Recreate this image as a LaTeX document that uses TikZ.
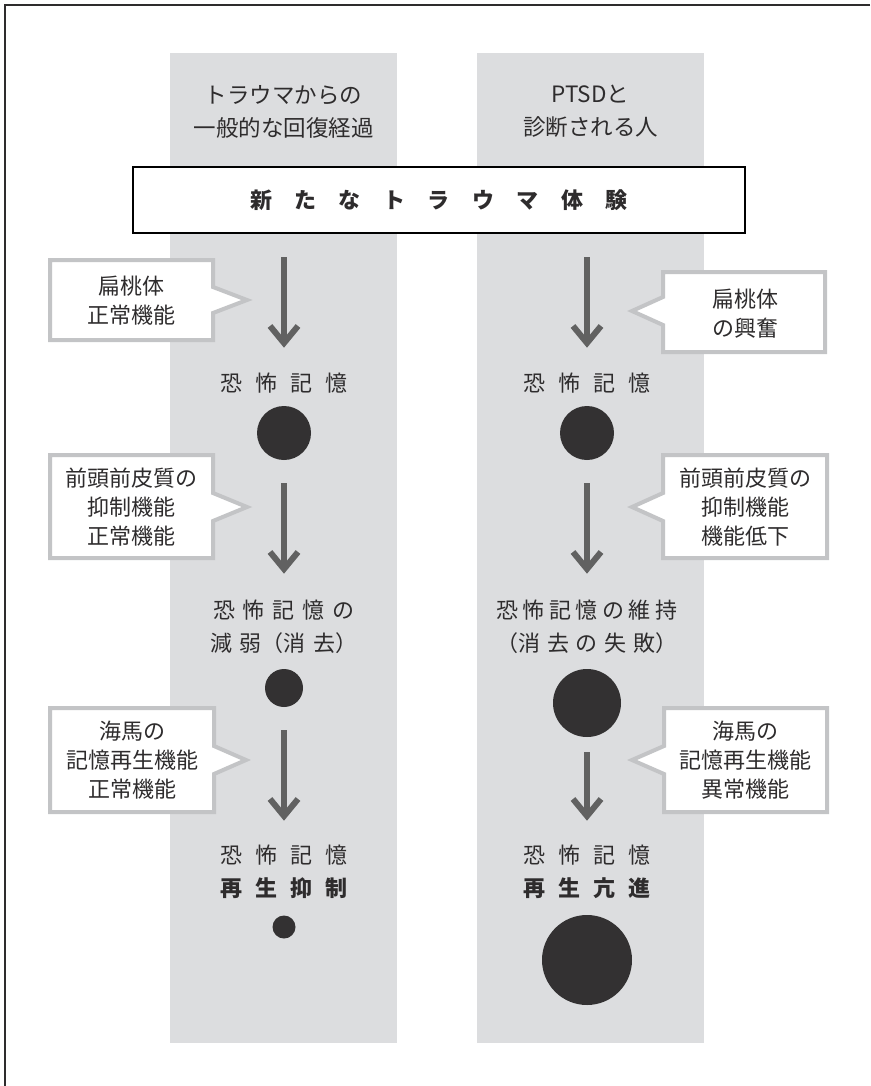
\documentclass[tikz,border=0pt]{standalone}
\usepackage{fontspec}
\setmainfont{Noto Sans CJK JP}
\definecolor{colgray}{HTML}{DCDDDF}
\definecolor{arrgray}{HTML}{616161}
\definecolor{callgray}{HTML}{C3C4C6}
\definecolor{ink}{HTML}{2E2C2D}
\definecolor{dotink}{HTML}{333132}
\newcommand\jg[1]{\hspace*{#1pt}}
\newcommand\flowarrow[2]{%
  \draw[flow] (#1) -- ([yshift=6pt]#2);
  \draw[flow, line join=miter] ([xshift=-14pt,yshift=21pt]#2) -- ([yshift=4pt]#2) -- ([xshift=14pt,yshift=21pt]#2);}
\begin{document}
\begin{tikzpicture}[x=1pt,y=-1pt,
  column/.style={fill=colgray},
  txt/.style={font=\fontsize{22}{29}\selectfont, text=ink, inner sep=0pt, align=center},
  callout/.style={fill=white, draw=callgray, line width=4pt, line join=miter},
  flow/.style={draw=arrgray, line width=6pt},
  memdot/.style={circle, fill=dotink, inner sep=0pt},
  mainbox/.style={draw=black, fill=white, line width=1.8pt}]
\useasboundingbox (0,0) rectangle (870,1086);
% frame (top and left edges)
\draw[line width=1.5pt, ink] (870,5) -- (5,5) -- (5,1086);
% columns
\fill[column] (170,53) rectangle (397,1043);
\fill[column] (477,53) rectangle (704,1043);
% headers
\node[txt, font=\fontsize{22.5}{33}\selectfont] (hl) at (283.5,111.5) {トラウマからの\\一般的な回復経過};
\node[txt, font=\fontsize{22.5}{33}\selectfont] (hr) at (590.5,111.5) {PTSDと\\診断される人};
% main box
\draw[mainbox] (133,167) rectangle (745,233);
\node[txt, font=\fontsize{22}{29}\selectfont\bfseries] (main) at (439,200) {新\jg{22.5}た\jg{22.5}な\jg{22.5}ト\jg{22.5}ラ\jg{22.5}ウ\jg{22.5}マ\jg{22.5}体\jg{22.5}験};
% callouts left
\draw[callout] (50,260) -- (213,260) -- (213,287) -- (247,300) -- (213,313) -- (213,340) -- (50,340) -- cycle;
\node[txt] (cl1) at (131,300.5) {扁桃体\\正常機能};
\draw[callout] (50,455) -- (213,455) -- (213,493) -- (247,507) -- (213,521) -- (213,558) -- (50,558) -- cycle;
\node[txt] (cl2) at (131,507.5) {前頭前皮質の\\抑制機能\\正常機能};
\draw[callout] (50,708) -- (214,708) -- (214,746) -- (246,760) -- (214,774) -- (214,812) -- (50,812) -- cycle;
\node[txt] (cl3) at (132,760) {海馬の\\記憶再生機能\\正常機能};
% callouts right
\draw[callout] (825,272) -- (663,272) -- (663,297) -- (632,311) -- (663,325) -- (663,352) -- (825,352) -- cycle;
\node[txt] (cr1) at (745,313.5) {扁桃体\\の興奮};
\draw[callout] (827,455) -- (663,455) -- (663,493) -- (632,507) -- (663,521) -- (663,558) -- (827,558) -- cycle;
\node[txt] (cr2) at (745,507.5) {前頭前皮質の\\抑制機能\\機能低下};
\draw[callout] (827,708) -- (664,708) -- (664,746) -- (632,760) -- (664,774) -- (664,812) -- (827,812) -- cycle;
\node[txt] (cr3) at (745,760) {海馬の\\記憶再生機能\\異常機能};
% left column flow
\coordinate (la1) at (284,257); \coordinate (lb1) at (284,347);
\flowarrow{la1}{lb1}
\node[txt] (lt1) at (284,383) {恐\jg{13}怖\jg{13}記\jg{13}憶};
\node[memdot, minimum size=54pt] (ld1) at (284,433) {};
\coordinate (la2) at (284,483); \coordinate (lb2) at (284,573);
\flowarrow{la2}{lb2}
\node[txt, font=\fontsize{22}{33}\selectfont] (lt2) at (284,626.5) {恐\jg{8}怖\jg{8}記\jg{8}憶\jg{8}の\\減\jg{8}弱（消\jg{8}去）};
\node[memdot, minimum size=38pt] (ld2) at (284,688) {};
\coordinate (la3) at (284,730); \coordinate (lb3) at (284,820);
\flowarrow{la3}{lb3}
\node[txt] (lt3) at (284,855) {恐\jg{13}怖\jg{13}記\jg{13}憶};
\node[txt, font=\fontsize{22}{29}\selectfont\bfseries] (lt4) at (284,888) {再\jg{13}生\jg{13}抑\jg{13}制};
\node[memdot, minimum size=23pt] (ld3) at (284,927) {};
% right column flow
\coordinate (ra1) at (587,257); \coordinate (rb1) at (587,347);
\flowarrow{ra1}{rb1}
\node[txt] (rt1) at (587,383) {恐\jg{13}怖\jg{13}記\jg{13}憶};
\node[memdot, minimum size=54pt] (rd1) at (587,433) {};
\coordinate (ra2) at (587,483); \coordinate (rb2) at (587,573);
\flowarrow{ra2}{rb2}
\node[txt, font=\fontsize{22}{33}\selectfont] (rt2) at (587,626.5) {恐\jg{4.5}怖\jg{4.5}記\jg{4.5}憶\jg{4.5}の\jg{4.5}維\jg{4.5}持\\（消\jg{7}去\jg{7}の\jg{7}失\jg{7}敗）};
\node[memdot, minimum size=68pt] (rd2) at (587,703) {};
\coordinate (ra3) at (587,752); \coordinate (rb3) at (587,820);
\flowarrow{ra3}{rb3}
\node[txt] (rt3) at (587,855) {恐\jg{13}怖\jg{13}記\jg{13}憶};
\node[txt, font=\fontsize{22}{29}\selectfont\bfseries] (rt4) at (587,888) {再\jg{13}生\jg{13}亢\jg{13}進};
\node[memdot, minimum size=90pt] (rd3) at (587,960) {};
\end{tikzpicture}
\end{document}
